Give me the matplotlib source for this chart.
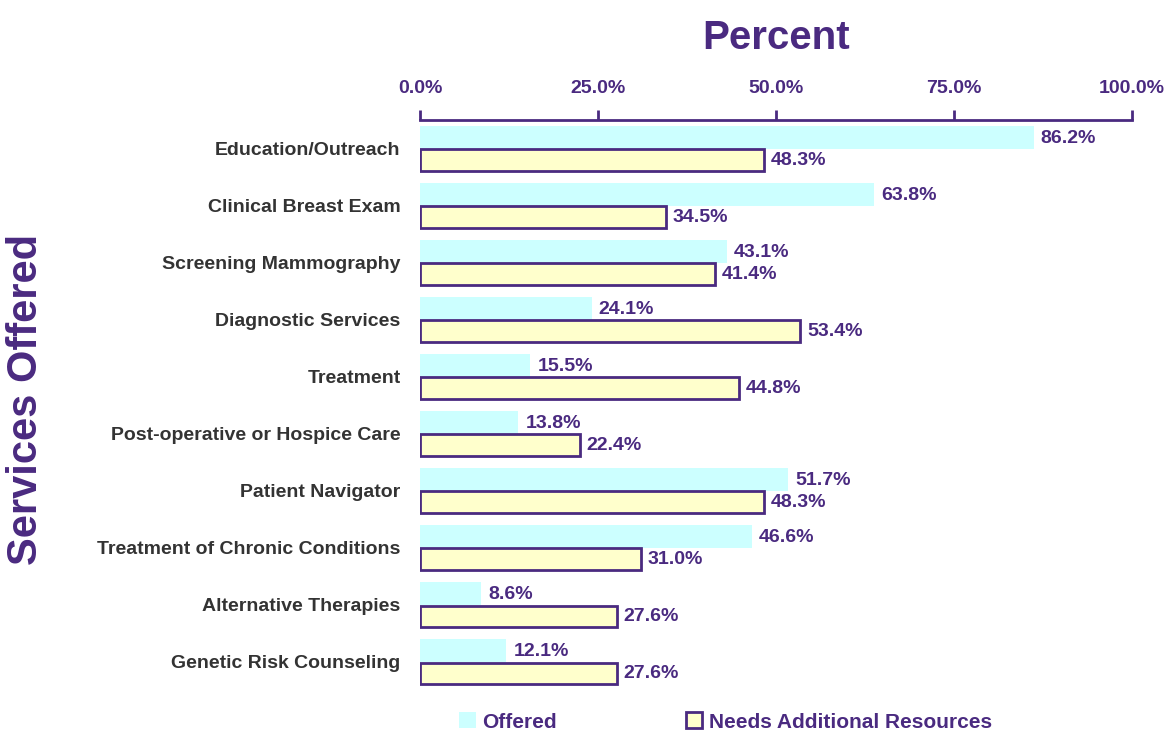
import matplotlib.pyplot as plt
import numpy as np

plt.rcParams['font.family'] = ['Liberation Sans', 'DejaVu Sans']

categories = ['Education/Outreach', 'Clinical Breast Exam', 'Screening Mammography',
              'Diagnostic Services', 'Treatment', 'Post-operative or Hospice Care',
              'Patient Navigator', 'Treatment of Chronic Conditions',
              'Alternative Therapies', 'Genetic Risk Counseling']
offered = [86.2, 63.8, 43.1, 24.1, 15.5, 13.8, 51.7, 46.6, 8.6, 12.1]
needs = [48.3, 34.5, 41.4, 53.4, 44.8, 22.4, 48.3, 31.0, 27.6, 27.6]
ticks = [0, 25, 50, 75, 100]

purple = '#4A2A80'

fig = plt.figure(figsize=(11.7, 7.33), dpi=100)
ax = fig.add_axes([0.359, 0.058, 0.6085, 0.778])

y = np.arange(len(categories))
h = 0.4
b1 = ax.barh(y - h / 2, offered, height=h, color='#CCFFFF', label='Offered')
b2 = ax.barh(y + h / 2, needs, height=h * 0.95, color='#FFFFCC', edgecolor=purple,
             linewidth=2, label='Needs Additional Resources')

for yy, v in zip(y, offered):
    ax.text(v + 1.0, yy - h / 2 + 0.02, f'{v:.1f}%', va='center', ha='left',
            color=purple, fontsize=14, fontweight='bold')
for yy, v in zip(y, needs):
    ax.text(v + 1.0, yy + h / 2 + 0.01, f'{v:.1f}%', va='center', ha='left',
            color=purple, fontsize=14, fontweight='bold')

ax.set_xlim(0, 100)
ax.set_ylim(len(categories) - 0.5, -0.5)
ax.xaxis.tick_top()
ax.set_xticks(ticks)
ax.set_xticklabels([f'{t:.1f}%' for t in ticks], color=purple, fontsize=14,
                   fontweight='bold')
ax.tick_params(axis='x', direction='out', length=7, width=2, color=purple, pad=10)
ax.set_yticks(y)
ax.set_yticklabels(categories, fontsize=14, fontweight='bold', color='#333333')
ax.tick_params(axis='y', length=0, pad=14)

for s in ['left', 'right', 'bottom']:
    ax.spines[s].set_visible(False)
ax.spines['top'].set_color(purple)
ax.spines['top'].set_linewidth(2)

fig.text(0.663, 0.948, 'Percent', ha='center', va='center', fontsize=29,
         fontweight='bold', color=purple)
fig.text(0.022, 0.455, 'Services Offered', ha='center', va='center', rotation=90,
         fontsize=30, fontweight='bold', color=purple)

fig.legend(handles=[b1, b2], loc='center', bbox_to_anchor=(0.62, 0.015), ncol=2,
           frameon=False, labelcolor=purple, handlelength=0.8,
           handleheight=0.8, handletextpad=0.3, columnspacing=6.2,
           prop={'weight': 'bold', 'size': 15})

fig.savefig('out.png', dpi=100)
